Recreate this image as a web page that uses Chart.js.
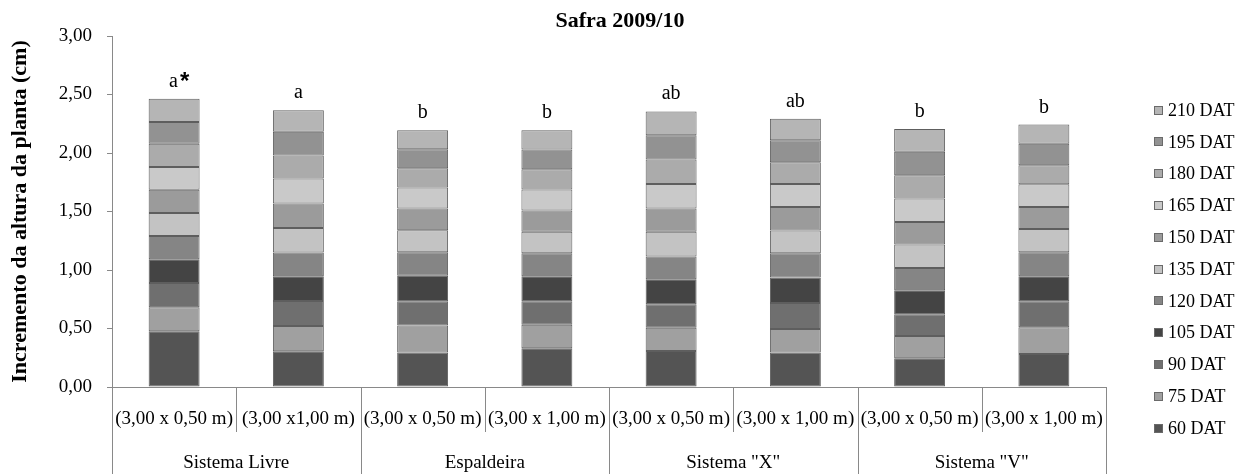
<!DOCTYPE html>
<html>
<head>
<meta charset="utf-8">
<script src="https://cdn.jsdelivr.net/npm/chart.js@4.4.1/dist/chart.umd.min.js"></script>
<style>
  html, body { margin: 0; padding: 0; background: #ffffff; }
  #wrap { width: 1246px; height: 474px; }
</style>
</head>
<body>
<div id="wrap"><canvas id="c" width="1246" height="474"></canvas></div>
<script>
// ---- data ----
const chartTitle = "Safra 2009/10";
const subLabels = ["(3,00 x 0,50 m)", "(3,00 x1,00 m)", "(3,00 x 0,50 m)", "(3,00 x 1,00 m)",
                   "(3,00 x 0,50 m)", "(3,00 x 1,00 m)", "(3,00 x 0,50 m)", "(3,00 x 1,00 m)"];
const groupLabels = ["Sistema Livre", "Espaldeira", "Sistema \"X\"", "Sistema \"V\""];
const sigLetters = ["a*", "a", "b", "b", "ab", "ab", "b", "b"];
const seriesNames = ["60 DAT", "75 DAT", "90 DAT", "105 DAT", "120 DAT", "135 DAT",
                     "150 DAT", "165 DAT", "180 DAT", "195 DAT", "210 DAT"];
const dat60  = [0.476, 0.305, 0.294, 0.331, 0.308, 0.294, 0.245, 0.282];
const dat75  = [0.205, 0.217, 0.231, 0.202, 0.199, 0.202, 0.191, 0.228];
const dat90  = [0.208, 0.213, 0.208, 0.200, 0.200, 0.222, 0.185, 0.223];
const dat105 = [0.203, 0.211, 0.217, 0.214, 0.214, 0.217, 0.206, 0.213];
const dat120 = [0.199, 0.203, 0.202, 0.196, 0.194, 0.208, 0.191, 0.206];
const dat135 = [0.197, 0.211, 0.188, 0.183, 0.211, 0.194, 0.199, 0.199];
const dat150 = [0.197, 0.208, 0.185, 0.182, 0.199, 0.202, 0.194, 0.188];
const dat165 = [0.196, 0.214, 0.180, 0.180, 0.209, 0.197, 0.200, 0.194];
const dat180 = [0.197, 0.196, 0.165, 0.174, 0.210, 0.185, 0.199, 0.163];
const dat195 = [0.188, 0.203, 0.163, 0.168, 0.208, 0.188, 0.200, 0.182];
const dat210 = [0.197, 0.185, 0.162, 0.165, 0.203, 0.183, 0.196, 0.165];
const yTicks = [0, 0.5, 1.0, 1.5, 2.0, 2.5, 3.0];

// ---- styles ----
const seriesValues = [dat60, dat75, dat90, dat105, dat120, dat135, dat150, dat165, dat180, dat195, dat210];
const seriesColors = ["#545454", "#a0a0a0", "#6f6f6f", "#444444", "#858585", "#c3c3c3",
                      "#9b9b9b", "#c9c9c9", "#ababab", "#929292", "#b5b5b5"];
const SERIF = "'Liberation Serif', 'Times New Roman', serif";
const AXIS = "#898989";

const datasets = seriesNames.map((n, i) => ({
  label: n,
  data: seriesValues[i],
  backgroundColor: seriesColors[i],
  borderColor: "#5e5e5e",
  borderWidth: 1,
  borderSkipped: false,
  barPercentage: 0.41,
  categoryPercentage: 1.0
}));

const extras = {
  id: 'extras',
  afterDraw(chart) {
    const ctx = chart.ctx;
    const xs = chart.scales.x;
    const area = chart.chartArea;
    const n = subLabels.length;
    const step = (area.right - area.left) / n;
    ctx.save();
    // title
    ctx.fillStyle = "#000";
    ctx.font = "bold 22px " + SERIF;
    ctx.textAlign = "center";
    ctx.textBaseline = "middle";
    ctx.fillText(chartTitle, (area.left + area.right) / 2 + 11, 21);
    // separators under axis
    ctx.strokeStyle = AXIS;
    ctx.lineWidth = 1;
    for (let k = 0; k <= n; k++) {
      const x = Math.round(area.left + k * step) + 0.5;
      const isGroup = (k % 2 === 0);
      ctx.beginPath();
      ctx.moveTo(x, area.bottom);
      ctx.lineTo(x, isGroup ? chart.height : area.bottom + 45);
      ctx.stroke();
    }
    // sub labels
    ctx.fillStyle = "#000";
    ctx.font = "19px " + SERIF;
    ctx.textAlign = "center";
    ctx.textBaseline = "middle";
    subLabels.forEach((l, i) => {
      ctx.fillText(l, xs.getPixelForValue(i), area.bottom + 32);
    });
    groupLabels.forEach((g, j) => {
      const x = (xs.getPixelForValue(2 * j) + xs.getPixelForValue(2 * j + 1)) / 2;
      ctx.fillText(g, x, area.bottom + 76);
    });
    // significance letters
    const lastMeta = chart.getDatasetMeta(chart.data.datasets.length - 1);
    ctx.textBaseline = "alphabetic";
    sigLetters.forEach((s, i) => {
      const el = lastMeta.data[i];
      const top = el.y;
      const cx = el.x;
      if (s.endsWith("*")) {
        const base = s.slice(0, -1);
        ctx.font = "20px " + SERIF;
        const w1 = ctx.measureText(base).width;
        ctx.font = "bold 24px 'Liberation Sans', sans-serif";
        const w2 = ctx.measureText("*").width;
        const start = cx - (w1 + w2) / 2 + 4;
        ctx.textAlign = "left";
        ctx.font = "20px " + SERIF;
        ctx.fillText(base, start, top - 12);
        ctx.font = "bold 24px 'Liberation Sans', sans-serif";
        ctx.fillText("*", start + w1 + 2, top - 10);
        ctx.textAlign = "center";
      } else {
        ctx.font = "20px " + SERIF;
        ctx.fillText(s, cx, top - 12);
      }
    });
    // legend (reverse order)
    ctx.font = "18px " + SERIF;
    ctx.textAlign = "left";
    ctx.textBaseline = "middle";
    const ds = chart.data.datasets;
    for (let i = ds.length - 1; i >= 0; i--) {
      const y = 110 + (ds.length - 1 - i) * 31.8;
      const by = Math.round(y - 4.5);
      ctx.fillStyle = ds[i].backgroundColor;
      ctx.fillRect(1154, by, 9, 9);
      ctx.strokeStyle = "#6a6a6a";
      ctx.strokeRect(1154.5, by + 0.5, 8, 8);
      ctx.fillStyle = "#000";
      ctx.fillText(ds[i].label, 1168, y + 1);
    }
    ctx.restore();
  }
};

Chart.defaults.font.family = SERIF;
Chart.defaults.color = "#000";

new Chart(document.getElementById('c'), {
  type: 'bar',
  data: { labels: subLabels, datasets: datasets },
  options: {
    responsive: false,
    devicePixelRatio: 1,
    animation: false,
    layout: { padding: { left: 0, right: 140, top: 36, bottom: 0 } },
    plugins: {
      legend: { display: false },
      tooltip: { enabled: false },
      title: { display: false }
    },
    scales: {
      x: {
        stacked: true,
        ticks: { display: false },
        grid: { display: false },
        border: { display: true, color: AXIS, width: 1 },
        afterFit(scale) { scale.height = 87; }
      },
      y: {
        stacked: true,
        min: 0,
        max: 3,
        afterBuildTicks(scale) { scale.ticks = yTicks.map(v => ({ value: v })); },
        ticks: {
          padding: 15,
          color: '#000',
          font: { size: 19, family: SERIF },
          callback: (v) => Number(v).toFixed(2).replace('.', ',')
        },
        grid: { drawOnChartArea: false, drawTicks: true, tickLength: 5, color: AXIS },
        border: { display: true, color: AXIS, width: 1 },
        title: {
          display: true,
          text: 'Incremento da altura da planta (cm)',
          color: '#000',
          font: { size: 22, weight: 'bold', family: SERIF },
          padding: { top: 7, bottom: 0 }
        },
        afterFit(scale) { scale.width = 112; }
      }
    }
  },
  plugins: [extras]
});
</script>
</body>
</html>
